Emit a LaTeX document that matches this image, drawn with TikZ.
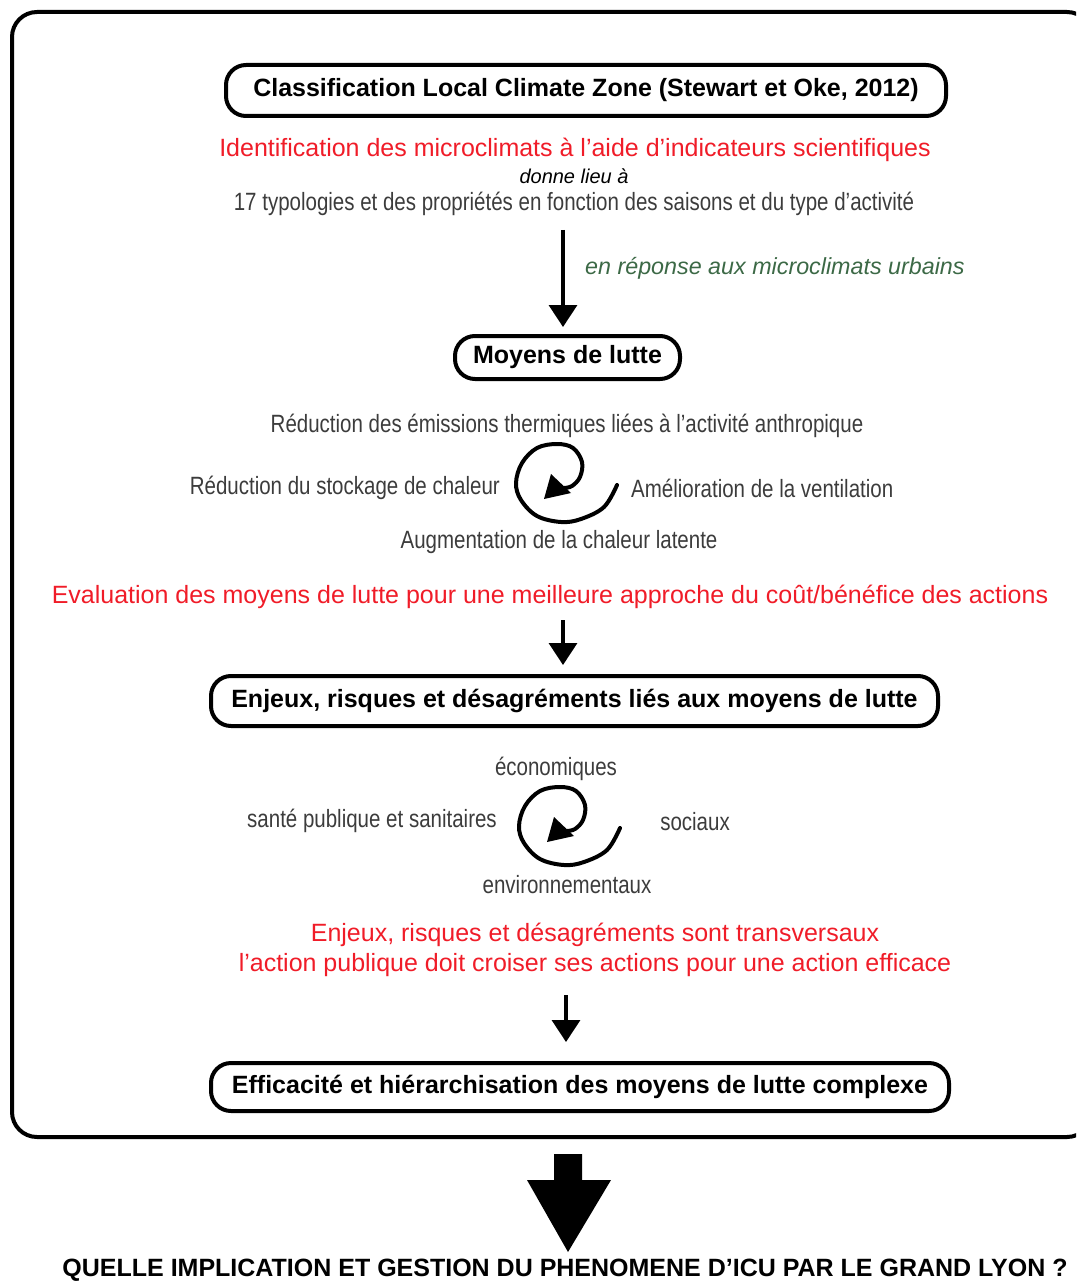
\documentclass[tikz,border=0pt]{standalone}
\usepackage{fontspec}
\setmainfont{Liberation Sans}
\newfontfamily\narrowfont[FakeStretch=0.82]{Liberation Sans}
\usetikzlibrary{arrows.meta}
\definecolor{myred}{RGB}{240,28,40}
\definecolor{mygray}{RGB}{60,60,60}
\definecolor{mygreen}{RGB}{60,105,70}
\tikzset{
  boxnode/.style={draw, line width=4pt, rounded corners=20pt, inner sep=0pt, font=\fontsize{25}{29}\selectfont\bfseries},
  redtxt/.style={inner sep=0pt, text=myred, font=\fontsize{25}{30}\selectfont},
  graytxt/.style={inner sep=0pt, text=mygray, font=\narrowfont\fontsize{25}{30}\selectfont},
  arr/.style={line width=3.5pt, -{Triangle[width=28pt,length=22pt]}},
  cyclespiral/.pic={
    \draw[line width=4pt, line cap=round] plot[smooth, tension=0.6] coordinates {(60,2) (47,24) (24,36) (4,39) (-20,33) (-36,17) (-41,0) (-35,-20) (-20,-35) (0,-39) (16,-35) (25,-21) (23,-6) (15,3) (7,5)};
    \fill (-13,16) -- (-6,-9) -- (14,10) -- cycle;
  }
}
\begin{document}
\begin{tikzpicture}[x=1pt,y=-1pt]
\useasboundingbox (0,0) rectangle (1076,1281);
\clip (0,0) rectangle (1076,1281);
\draw[line width=4pt, rounded corners=25pt] (12,12) rectangle (1092,1137);

\node[boxnode, minimum width=720pt, minimum height=51pt] (b1) at (586,90.5) {Classification Local Climate Zone (Stewart et Oke, 2012)};
\node[redtxt] (t1) at (575,150) {Identification des microclimats à l’aide d’indicateurs scientifiques};
\node[inner sep=0pt, font=\fontsize{20}{24}\selectfont\itshape] (t2) at (574,176) {donne lieu à};
\node[graytxt] (t3) at (574,204) {17 typologies et des propriétés en fonction des saisons et du type d’activité};

\coordinate (a1s) at (563,230);
\node[inner sep=0pt, anchor=west, text=mygreen, font=\fontsize{23.3}{28}\selectfont\itshape] (gl) at (585,268) {en réponse aux microclimats urbains};

\node[boxnode, minimum width=225pt, minimum height=43pt] (b2) at (567.5,357.5) {Moyens de lutte};
\draw[arr] (a1s) -- (a1s |- b2.north) [shorten >=7pt];

\node[graytxt] (g1) at (567,426) {Réduction des émissions thermiques liées à l’activité anthropique};
\node[graytxt, anchor=east] (g2) at (500,488) {Réduction du stockage de chaleur};
\node[graytxt, anchor=west] (g3) at (631,488) {Amélioration de la ventilation};
\node[graytxt] (g4) at (559,542) {Augmentation de la chaleur latente};
\pic at (557,483) {cyclespiral};

\node[redtxt] (r2) at (550,597) {Evaluation des moyens de lutte pour une meilleure approche du coût/bénéfice des actions};
\coordinate (a2s) at (563,620);

\node[boxnode, minimum width=727pt, minimum height=50pt] (b3) at (574.5,701) {Enjeux, risques et désagréments liés aux moyens de lutte};
\draw[arr] (a2s) -- (a2s |- b3.north) [shorten >=9pt];

\node[graytxt] (h1) at (556,769) {économiques};
\node[graytxt] (h2) at (372,821) {santé publique et sanitaires};
\node[graytxt] (h3) at (695,822) {sociaux};
\node[graytxt] (h4) at (567,885) {environnementaux};
\pic at (560,826) {cyclespiral};

\node[redtxt, align=center] (r3) at (595,950) {Enjeux, risques et désagréments sont transversaux\\l’action publique doit croiser ses actions pour une action efficace};
\coordinate (a3s) at (566,995);

\node[boxnode, minimum width=738pt, minimum height=48pt] (b4) at (580,1087) {Efficacité et hiérarchisation des moyens de lutte complexe};
\draw[arr] (a3s) -- (a3s |- b4.north) [shorten >=19pt];

\fill (554,1154) -- (582,1154) -- (582,1180) -- (611,1180) -- (568,1252) -- (527,1180) -- (554,1180) -- cycle;
\node[inner sep=0pt, font=\fontsize{25}{29}\selectfont\bfseries] (q) at (565,1270) {QUELLE IMPLICATION ET GESTION DU PHENOMENE D’ICU PAR LE GRAND LYON ?};
\end{tikzpicture}
\end{document}
